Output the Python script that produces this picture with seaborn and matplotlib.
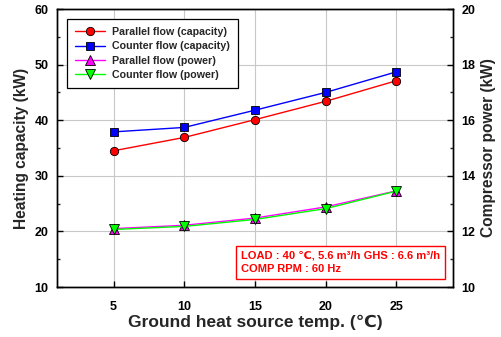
import matplotlib
matplotlib.use("Agg")
import matplotlib.pyplot as plt
from matplotlib.ticker import MultipleLocator
import seaborn as sns
import pandas as pd

temps = [5, 10, 15, 20, 25]
cap_parallel = [34.5, 36.9, 40.1, 43.4, 47.1]
cap_counter = [37.9, 38.7, 41.8, 45.0, 48.7]
pow_parallel = [12.10, 12.22, 12.48, 12.88, 13.46]
pow_counter = [12.07, 12.18, 12.43, 12.82, 13.45]
labels = ["Parallel flow (capacity)", "Counter flow (capacity)",
          "Parallel flow (power)", "Counter flow (power)"]

sns.set_style("white")
plt.rcParams['font.family'] = ['Liberation Sans', 'DejaVu Sans']
plt.rcParams['font.weight'] = 'bold'

fig = plt.figure(figsize=(5.01, 3.37), dpi=100)
ax = fig.add_axes([57/501, 50/337, 396/501, 278/337])
ax2 = ax.twinx()

df_cap = pd.DataFrame({"temp": temps * 2,
                       "val": cap_parallel + cap_counter,
                       "series": [labels[0]] * 5 + [labels[1]] * 5})
df_pow = pd.DataFrame({"temp": temps * 2,
                       "val": pow_parallel + pow_counter,
                       "series": [labels[2]] * 5 + [labels[3]] * 5})

sns.lineplot(data=df_cap, x="temp", y="val", hue="series", style="series",
             palette={labels[0]: "#ff0000", labels[1]: "#0000ff"},
             markers={labels[0]: "o", labels[1]: "s"}, dashes=False,
             markersize=6, markeredgecolor="black", markeredgewidth=0.6,
             linewidth=1.0, ax=ax, legend=False)
sns.lineplot(data=df_pow, x="temp", y="val", hue="series", style="series",
             palette={labels[2]: "#ff00ff", labels[3]: "#00ff00"},
             markers={labels[2]: "^", labels[3]: "v"}, dashes=False,
             markersize=6.5, markeredgecolor="black", markeredgewidth=0.6,
             linewidth=1.0, ax=ax2, legend=False)

ax.set_xlim(1, 29)
ax.set_ylim(10, 60)
ax2.set_ylim(10, 20)
ax.set_xticks(temps)
ax.yaxis.set_major_locator(MultipleLocator(10))
ax.yaxis.set_minor_locator(MultipleLocator(5))
ax2.yaxis.set_major_locator(MultipleLocator(2))
ax2.yaxis.set_minor_locator(MultipleLocator(1))

ax.grid(True, which="major", color="#c8c8c8", linewidth=0.8)
ax.set_axisbelow(True)

for a in (ax, ax2):
    for s in a.spines.values():
        s.set_color("black")
        s.set_linewidth(1.0)
ax.tick_params(axis="y", which="major", direction="in", length=4, width=1,
               labelsize=9, colors="black", pad=6)
ax.tick_params(axis="x", which="major", direction="in", length=4, width=1,
               labelsize=9, colors="black", pad=10, top=False, bottom=True)
ax.tick_params(axis="y", which="minor", direction="in", length=2.5, width=1, left=True)
ax2.tick_params(axis="y", which="major", direction="in", length=4, width=1,
                labelsize=9, colors="black", pad=6, right=True)
ax2.tick_params(axis="y", which="minor", direction="in", length=2.5, width=1, right=True)
for lab in ax.get_xticklabels() + ax.get_yticklabels() + ax2.get_yticklabels():
    lab.set_fontweight("bold")

ax.set_xlabel("Ground heat source temp. (\u2103)", fontsize=12.5, fontweight="bold")
ax.xaxis.set_label_coords(0.5, -0.1)
ax.set_ylabel("Heating capacity (kW)", fontsize=11.2, fontweight="bold", labelpad=4)
ax2.set_ylabel("Compressor power (kW)", fontsize=11.2, fontweight="bold", labelpad=4)

handles = ax.get_lines()[:2] + ax2.get_lines()[:2]
leg = ax2.legend(handles, labels, loc="upper left", bbox_to_anchor=(0.025, 0.964),
                 borderaxespad=0,
                 fontsize=7.7, frameon=True, fancybox=False, framealpha=1,
                 edgecolor="black", handlelength=2.8, borderpad=0.75,
                 labelspacing=0.4, handletextpad=0.7)
leg.get_frame().set_linewidth(0.9)
for t in leg.get_texts():
    t.set_fontweight("bold")

ax2.text(0.465, 0.047, "LOAD : 40 \u2103, 5.6 m\u00b3/h GHS : 6.6 m\u00b3/h\nCOMP RPM : 60 Hz",
         transform=ax.transAxes, fontsize=8.0, fontweight="bold", color="#ff0000",
         ha="left", va="bottom", linespacing=1.45,
         bbox=dict(boxstyle="square,pad=0.42", facecolor="white", edgecolor="#ff0000", linewidth=1))

fig.savefig("out.png", dpi=100)
